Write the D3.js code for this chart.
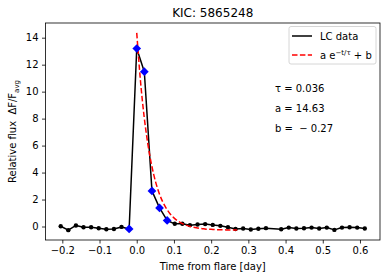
<!DOCTYPE html>
<html>
<head>
<meta charset="utf-8">
<script src="https://cdn.jsdelivr.net/npm/d3@7"></script>
<style>
  body { margin: 0; background: #fff; }
  svg { font-family: "DejaVu Sans", sans-serif; }
  text { white-space: pre; }
</style>
</head>
<body>
<script>
// light curve around the flare (days from flare peak, relative flux)
var times = [-0.2043, -0.1839, -0.1634, -0.1430, -0.1226, -0.1022, -0.0817, -0.0613, -0.0409, -0.0204,
  0.0, 0.0204, 0.0409, 0.0613, 0.0817, 0.1022, 0.1226, 0.1430, 0.1634, 0.1839,
  0.2043, 0.2247, 0.2452, 0.2656, 0.2860, 0.3065, 0.3269, 0.3473, 0.3882, 0.4086,
  0.4290, 0.4495, 0.4699, 0.4903, 0.5108, 0.5312, 0.5516, 0.5721, 0.5925, 0.6129];
var flux = [0.02, -0.27, 0.08, -0.05, -0.05, -0.13, -0.2, -0.18, -0.03, -0.18,
  13.2, 11.48, 2.64, 1.38, 0.45, 0.2, 0.2, 0.1, 0.15, 0.18,
  0.12, 0.05, -0.05, -0.18, -0.15, -0.22, -0.17, -0.12, -0.2, -0.08,
  -0.15, -0.13, -0.08, -0.15, -0.08, -0.25, -0.08, -0.05, -0.08, -0.15];

// points used in the fit (blue diamonds)
var flareTimes = [-0.0204, 0.0, 0.0204, 0.0409, 0.0613, 0.0817];
var flareFlux = [-0.18, 13.2, 11.48, 2.64, 1.38, 0.45];

// fitted decay a e^{-t/tau} + b, sampled
var fitTimes = [0, 0.01, 0.02, 0.03, 0.04, 0.05, 0.06, 0.07, 0.08, 0.09, 0.10, 0.11, 0.12, 0.13,
  0.14, 0.15, 0.16, 0.17, 0.18, 0.19, 0.20, 0.21, 0.22, 0.23, 0.24, 0.25, 0.26, 0.27];
var fitFlux = [14.36, 10.81, 8.12, 6.09, 4.55, 3.38, 2.49, 1.82, 1.32, 0.93, 0.64, 0.42, 0.25, 0.13,
  0.03, -0.04, -0.10, -0.14, -0.17, -0.20, -0.21, -0.23, -0.24, -0.245, -0.25, -0.256, -0.259, -0.262];

var xTicks = [-0.2, -0.1, 0.0, 0.1, 0.2, 0.3, 0.4, 0.5, 0.6];
var yTicks = [0, 2, 4, 6, 8, 10, 12, 14];
var fitText = ["\u03c4 = 0.036", "a = 14.63", "b =  \u2212 0.27"];

var W = 387, H = 278;
var L = 45.5, R = 380, T = 23, B = 240;

var svg = d3.select("body").append("svg")
  .attr("width", W).attr("height", H);

var x = d3.scaleLinear().domain([-0.2452, 0.6538]).range([L, R]);
var y = d3.scaleLinear().domain([-1.0, 15.09]).range([B, T]);

var fmtX = function (d) { return d3.format(".1f")(d).replace("-", "\u2212"); };

var gx = svg.append("g").attr("transform", "translate(0," + B + ")")
  .call(d3.axisBottom(x).tickValues(xTicks).tickFormat(fmtX).tickSize(3.5).tickPadding(3.5));
var gy = svg.append("g").attr("transform", "translate(" + L + ",0)")
  .call(d3.axisLeft(y).tickValues(yTicks).tickSize(3.5).tickPadding(3.5));

[gx, gy].forEach(function (g) {
  g.select(".domain").remove();
  g.selectAll("line").attr("stroke", "#000").attr("stroke-width", 0.8);
  g.selectAll("text").attr("font-size", 10).attr("fill", "#000")
    .attr("font-family", "DejaVu Sans, sans-serif");
});

var clip = svg.append("clipPath").attr("id", "clip")
  .append("rect").attr("x", L).attr("y", T).attr("width", R - L).attr("height", B - T);

var plot = svg.append("g").attr("clip-path", "url(#clip)");

var line = d3.line().x(function (d) { return x(d[0]); }).y(function (d) { return y(d[1]); });

plot.append("path")
  .datum(d3.zip(times, flux))
  .attr("d", line)
  .attr("fill", "none").attr("stroke", "#000").attr("stroke-width", 1.5)
  .attr("stroke-linejoin", "round");

plot.selectAll("circle.pt")
  .data(d3.zip(times, flux))
  .join("circle")
  .attr("class", "pt")
  .attr("cx", function (d) { return x(d[0]); })
  .attr("cy", function (d) { return y(d[1]); })
  .attr("r", 2.2)
  .attr("fill", "#000");

plot.append("path")
  .datum(d3.zip(fitTimes, fitFlux))
  .attr("d", line.curve(d3.curveMonotoneX))
  .attr("fill", "none").attr("stroke", "red").attr("stroke-width", 1.5)
  .attr("stroke-dasharray", "5.5,2.4");

var diamond = d3.symbol().type(d3.symbolSquare).size(38);
plot.selectAll("path.dia")
  .data(d3.zip(flareTimes, flareFlux))
  .join("path")
  .attr("class", "dia")
  .attr("d", diamond)
  .attr("transform", function (d) { return "translate(" + x(d[0]) + "," + y(d[1]) + ") rotate(45)"; })
  .attr("fill", "#0000ff");

// frame
svg.append("rect").attr("x", L).attr("y", T).attr("width", R - L).attr("height", B - T)
  .attr("fill", "none").attr("stroke", "#000").attr("stroke-width", 0.8);

// legend
var lg = svg.append("g");
lg.append("rect").attr("x", 289).attr("y", 26.5).attr("width", 87).attr("height", 37.5)
  .attr("rx", 2).attr("fill", "#fff").attr("fill-opacity", 0.8)
  .attr("stroke", "#cccccc").attr("stroke-width", 0.8);
lg.append("line").attr("x1", 292).attr("x2", 312).attr("y1", 36).attr("y2", 36)
  .attr("stroke", "#000").attr("stroke-width", 1.5);
lg.append("text").attr("x", 320).attr("y", 39.5).attr("font-size", 10).text("LC data");
lg.append("line").attr("x1", 292).attr("x2", 312).attr("y1", 55).attr("y2", 55)
  .attr("stroke", "red").attr("stroke-width", 1.5).attr("stroke-dasharray", "5.5,2.4");
var lt = lg.append("text").attr("x", 320).attr("y", 58.5).attr("font-size", 10);
lt.append("tspan").text("a e");
lt.append("tspan").attr("dy", -4).attr("font-size", 7).text("\u2212t/\u03c4");
lt.append("tspan").attr("dy", 4).text(" + b");

// fit parameters
svg.selectAll("text.par")
  .data(fitText)
  .join("text")
  .attr("class", "par")
  .attr("x", 275)
  .attr("y", function (d, i) { return 92 + i * 20; })
  .attr("font-size", 10)
  .text(function (d) { return d; });

// title and labels
svg.append("text").attr("x", (L + R) / 2).attr("y", 17).attr("text-anchor", "middle")
  .attr("font-size", 12).text("KIC: 5865248");
svg.append("text").attr("x", (L + R) / 2).attr("y", 270).attr("text-anchor", "middle")
  .attr("font-size", 10).text("Time from flare [day]");
var yl = svg.append("text").attr("transform", "translate(16," + (T + B) / 2 + ") rotate(-90)")
  .attr("text-anchor", "middle").attr("font-size", 10);
yl.append("tspan").text("Relative flux  \u0394F/F");
yl.append("tspan").attr("dy", 2.5).attr("font-size", 7).text("avg");
</script>
</body>
</html>
